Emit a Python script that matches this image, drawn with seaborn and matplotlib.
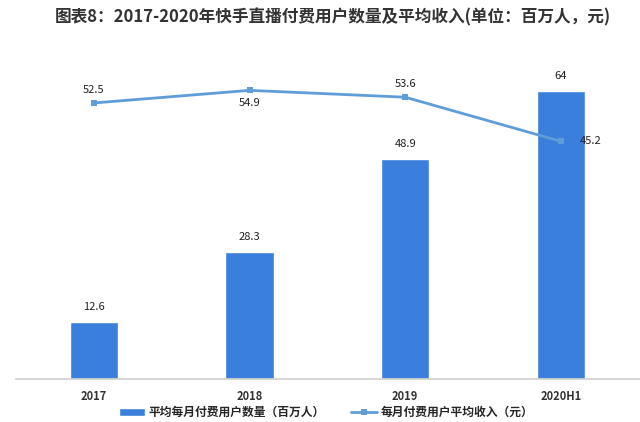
import numpy as np
import pandas as pd
import matplotlib
matplotlib.use('Agg')
import matplotlib.pyplot as plt
import seaborn as sns
from matplotlib.patches import Patch

# chart data
years = ['2017', '2018', '2019', '2020H1']
paying_users = [12.6, 28.3, 48.9, 64]          # 百万人
avg_revenue = [52.5, 54.9, 53.6, 45.2]         # 元

title = '图表8：2017-2020年快手直播付费用户数量及平均收入(单位：百万人，元)'
bar_name = '平均每月付费用户数量（百万人）'
line_name = '每月付费用户平均收入（元）'

sns.set_theme(style='white')
plt.rcParams['font.family'] = ['Noto Sans CJK SC', 'DejaVu Sans']
plt.rcParams['axes.unicode_minus'] = False

bar_color = '#3b7fdc'
line_color = '#5f9dd8'

df = pd.DataFrame({'year': years, 'users': paying_users, 'revenue': avg_revenue})

fig = plt.figure(figsize=(6.4, 4.22), dpi=100)
ax = fig.add_axes([0.025, 0.102, 0.973, 0.791])

sns.barplot(data=df, x='year', y='users', color=bar_color, width=0.31,
            saturation=1, ax=ax, legend=False)
ax.set_ylim(0, 74.2)
ax.set_xlim(-0.5, 3.5)
for i, v in enumerate(paying_users):
    ax.text(i, v + 2.2, f'{v:g}', ha='center', va='bottom', fontsize=8, color='#222222')

ax2 = ax.twinx()
sns.lineplot(data=df, x='year', y='revenue', color=line_color, linewidth=2,
             marker='s', markersize=5, markeredgewidth=0, ax=ax2, label=line_name,
             sort=False)
ax2.set_ylim(0, 63.5)
offsets = [(0, 1.6, 'center', 'bottom'), (0, -1.4, 'center', 'top'),
           (0, 1.6, 'center', 'bottom'), (0.12, 0, 'left', 'center')]
for i, v in enumerate(avg_revenue):
    dx, dy, ha, va = offsets[i]
    ax2.text(i + dx, v + dy, f'{v:g}', ha=ha, va=va, fontsize=8, color='#222222')

for a in (ax, ax2):
    a.set_xlabel('')
    a.set_ylabel('')
    a.set_yticks([])
    for s in ['top', 'right', 'left']:
        a.spines[s].set_visible(False)
ax.spines['bottom'].set_color('#d0d0d0')
ax2.spines['bottom'].set_visible(False)
ax.tick_params(axis='x', length=0, labelsize=8, labelcolor='#333333', pad=8)
for t in ax.get_xticklabels():
    t.set_fontweight('bold')

# combined legend at the bottom edge
h2, l2 = ax2.get_legend_handles_labels()
if ax2.get_legend():
    ax2.get_legend().remove()
handles = [Patch(facecolor=bar_color)] + h2
labels = [bar_name] + l2
fig.legend(handles, labels, loc='center', bbox_to_anchor=(0.51, 0.022),
           ncol=2, frameon=False, handlelength=2.2, handleheight=0.6,
           columnspacing=2.2, handletextpad=0.3,
           prop={'weight': 'bold', 'size': 8.5})

fig.text(0.52, 0.958, title, ha='center', va='center', fontsize=12,
         fontweight='bold', color='#333333')

fig.savefig('out.png', dpi=100)
